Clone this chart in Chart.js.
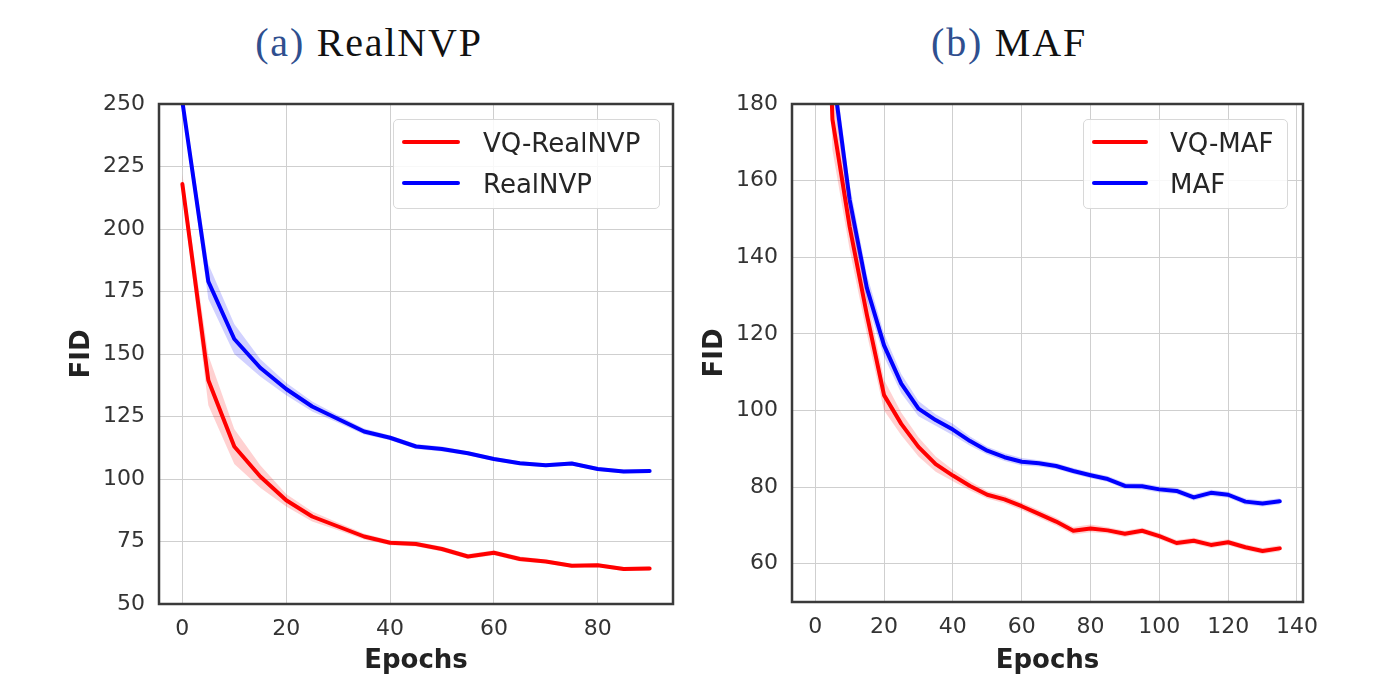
<!DOCTYPE html>
<html><head><meta charset="utf-8">
<script src="https://cdn.jsdelivr.net/npm/chart.js@4.4.1/dist/chart.umd.min.js"></script>
<style>
html,body{margin:0;padding:0;background:#fff;}
body{width:1381px;height:675px;overflow:hidden;position:relative;}
canvas{position:absolute;top:0;}
.title{position:absolute;top:23px;font-family:'Liberation Serif',serif;font-size:40px;line-height:40px;letter-spacing:1.8px;color:#111;white-space:nowrap;transform:translateX(-50%);}
.title .lab{color:#2f4f8f;}
.legend{position:absolute;background:rgba(255,255,255,0.85);border:1px solid #d8d8d8;border-radius:5px;box-sizing:border-box;}
.lline{position:absolute;height:4px;border-radius:2px;}
.ltext{position:absolute;font-family:'DejaVu Sans',sans-serif;font-size:26px;line-height:26px;color:#262626;white-space:nowrap;}
</style>
</head><body>
<div class="title" style="left:369px"><span class="lab">(a)</span> RealNVP</div>
<div class="title" style="left:1009px"><span class="lab">(b)</span> MAF</div>
<canvas id="cA" width="690" height="675" style="left:0px"></canvas>
<canvas id="cB" width="691" height="675" style="left:690px"></canvas>
<script>
// ---------- (a) RealNVP ----------
const epochsA = [0,5,10,15,20,25,30,35,40,45,50,55,60,65,70,75,80,85,90];
const vqRealNVP    = [218,139.5,113,101,91.5,85,81,77,74.5,74,72,69,70.5,68,67,65.3,65.5,64,64.2];
const vqRealNVPStd = [4,10,7,4.5,2.5,2,1.5,1.2,1,1,1,1,1,1,0.8,0.8,0.8,0.8,0.8];
const realNVP      = [251,179,156,144.5,136,129,124,119,116.5,113,112,110.3,108,106.3,105.5,106.2,104,103,103.2];
const realNVPStd   = [3,7,6,3.5,2.5,2,1.5,1.2,1,1,1,0.8,0.8,0.8,0.8,0.8,0.8,0.8,0.8];
const xTicksA = [0,20,40,60,80];
const yTicksA = [50,75,100,125,150,175,200,225,250];
const labelsA = ['VQ-RealNVP','RealNVP'];

// ---------- (b) MAF ----------
const epochsB = [0,5,10,15,20,25,30,35,40,45,50,55,60,65,70,75,80,85,90,95,100,105,110,115,120,125,130,135];
const vqMAF    = [300,176,148,125,104,96.5,90.5,86,83,80.3,78,76.8,75,73,71,68.6,69.2,68.7,67.8,68.6,67.2,65.4,66,64.9,65.6,64.3,63.3,64];
const vqMAFStd = [10,8,6,5,4,3,2.5,2,1.5,1.2,1,1,1,1,1,1,1,0.8,0.8,0.8,0.8,0.8,0.8,0.8,0.8,0.8,0.8,0.8];
const maf      = [300,189,155,132,117,107,100.5,97.5,95,92,89.5,87.8,86.6,86.2,85.5,84.2,83.1,82.1,80.3,80.2,79.4,79,77.3,78.5,78,76.2,75.7,76.3];
const mafStd   = [8,5,4,3.5,3,2.5,2,1.5,1.5,1.2,1,1,1,0.8,0.8,0.8,0.8,0.8,0.8,0.8,0.8,0.8,0.8,0.8,0.8,0.8,0.8,0.8];
const xTicksB = [0,20,40,60,80,100,120,140];
const yTicksB = [60,80,100,120,140,160,180];
const labelsB = ['VQ-MAF','MAF'];

const RED = '#ff0000', BLUE = '#0000ff';
const RED_FILL = 'rgba(255,0,0,0.18)', BLUE_FILL = 'rgba(0,0,255,0.18)';

function seriesSets(xs, mean, std, color, fillColor, label){
  return [
    {label: label+' +', data: xs.map((x,i)=>({x:x, y:mean[i]+std[i]})), borderWidth:0, borderColor:'rgba(0,0,0,0)', pointRadius:0, fill:false, clip:0},
    {label: label+' -', data: xs.map((x,i)=>({x:x, y:mean[i]-std[i]})), borderWidth:0, borderColor:'rgba(0,0,0,0)', pointRadius:0, fill:'-1', backgroundColor:fillColor, clip:0},
    {label: label, data: xs.map((x,i)=>({x:x, y:mean[i]})), borderColor:color, borderWidth:4, pointRadius:0, fill:false, tension:0, borderJoinStyle:'round', borderCapStyle:'round', clip:0}
  ];
}

const frame = {
  id:'frame',
  afterDatasetsDraw(chart){
    const {ctx, chartArea:a} = chart;
    ctx.save();
    ctx.strokeStyle = '#3a3a3a';
    ctx.lineWidth = 2.5;
    ctx.strokeRect(a.left, a.top, a.right-a.left, a.bottom-a.top);
    ctx.restore();
  }
};

function makeChart(id, o){
  return new Chart(document.getElementById(id), {
    type:'line',
    data:{datasets: o.datasets},
    plugins:[frame],
    options:{
      responsive:false, animation:false, devicePixelRatio:1,
      layout:{padding:{top:o.padTop, right:o.padRight, left:0, bottom:0}},
      plugins:{legend:{display:false}, tooltip:{enabled:false}},
      scales:{
        x:{type:'linear', min:o.xMin, max:o.xMax,
          afterBuildTicks: s => { s.ticks = o.xTicks.map(v=>({value:v})); },
          afterFit: s => { s.height = o.xAxisH; },
          grid:{color:'#cfcfcf', lineWidth:1, drawTicks:false},
          border:{display:false},
          ticks:{font:{family:'DejaVu Sans', size:22}, color:'#333', padding:12, maxRotation:0, autoSkip:false},
          title:{display:true, text:'Epochs', color:'#222', font:{family:'DejaVu Sans', size:26, weight:'bold', lineHeight:1}, padding:{top:0, bottom:1}}
        },
        y:{type:'linear', min:o.yMin, max:o.yMax,
          afterBuildTicks: s => { s.ticks = o.yTicks.map(v=>({value:v})); },
          afterFit: s => { s.width = o.yAxisW; },
          grid:{color:'#cfcfcf', lineWidth:1, drawTicks:false},
          border:{display:false},
          ticks:{font:{family:'DejaVu Sans', size:22}, color:'#333', padding:14, autoSkip:false},
          title:{display:true, text:'FID', color:'#222', font:{family:'DejaVu Sans', size:26, weight:'bold', lineHeight:1}, padding:{top:o.yTitlePad, bottom:0}}
        }
      }
    }
  });
}

makeChart('cA', {
  datasets: [...seriesSets(epochsA, vqRealNVP, vqRealNVPStd, RED, RED_FILL, labelsA[0]),
             ...seriesSets(epochsA, realNVP, realNVPStd, BLUE, BLUE_FILL, labelsA[1])],
  xMin:-4.5, xMax:94.5, yMin:50, yMax:250, xTicks:xTicksA, yTicks:yTicksA,
  padTop:104, padRight:17, yAxisW:159, xAxisH:71, yTitlePad:69
});
makeChart('cB', {
  datasets: [...seriesSets(epochsB, vqMAF, vqMAFStd, RED, RED_FILL, labelsB[0]),
             ...seriesSets(epochsB, maf, mafStd, BLUE, BLUE_FILL, labelsB[1])],
  xMin:-6.75, xMax:141.75, yMin:50, yMax:180, xTicks:xTicksB, yTicks:yTicksB,
  padTop:104, padRight:78, yAxisW:102, xAxisH:73, yTitlePad:12
});

// HTML legends
function makeLegend(box, labels, colors, lineX, lineW, textX, rows){
  const lg = document.createElement('div');
  lg.className = 'legend';
  lg.style.left = box[0]+'px'; lg.style.top = box[1]+'px';
  lg.style.width = box[2]+'px'; lg.style.height = box[3]+'px';
  document.body.appendChild(lg);
  labels.forEach((lab,i)=>{
    const ln = document.createElement('div');
    ln.className = 'lline';
    ln.style.left = lineX+'px'; ln.style.width = lineW+'px';
    ln.style.top = (rows[i]-2)+'px'; ln.style.background = colors[i];
    document.body.appendChild(ln);
    const tx = document.createElement('div');
    tx.className = 'ltext';
    tx.style.left = textX+'px'; tx.style.top = (rows[i]-12.5)+'px';
    tx.textContent = lab;
    document.body.appendChild(tx);
  });
}
makeLegend([393,119,267,90], labelsA, [RED,BLUE], 402, 58, 483, [142,183]);
makeLegend([1083,119,205,90], labelsB, [RED,BLUE], 1092, 56, 1170, [142,183]);
</script>
</body></html>
